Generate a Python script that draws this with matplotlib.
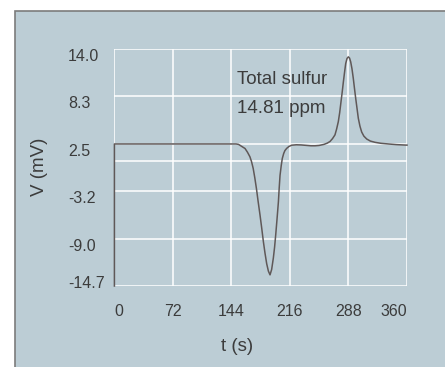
import matplotlib
matplotlib.use("Agg")
import matplotlib.pyplot as plt
from matplotlib.patches import Rectangle
from matplotlib.transforms import ScaledTranslation

# Signal (time in s, voltage in mV)
t = [0.5, 0.5, 150, 153, 157, 161, 164, 167, 169, 171, 173, 175, 177,
     179.4, 181.5, 183.5, 185.5, 187.6, 189.7, 191.7, 193.7, 195.8, 197.3,
     198.7, 200.3, 202, 203, 204, 205.5, 206.8, 208.5, 210, 212.2, 215,
     218.3, 224, 230, 236, 242, 247, 252, 258, 262, 265.4, 268.5, 271.5,
     273.5, 275.6, 277.3, 278.9, 280.4, 281.8, 283.3, 284.7, 286.3, 287.9,
     289.4, 290.8, 292.4, 294, 295.5, 297, 298.6, 300.2, 302.2, 304.3, 307,
     310.5, 315, 320.7, 328, 337, 347, 357.5, 360]
v = [-14.7, 2.5, 2.5, 2.45, 2.2, 1.95, 1.5, 0.95, 0.35, -0.45, -1.6, -2.9,
     -4.4, -6.1, -7.7, -9.3, -10.7, -12.0, -12.9, -13.35, -12.7, -11.3,
     -10.0, -8.5, -6.6, -4.5, -2.8, -1.3, -0.1, 0.75, 1.35, 1.7, 1.97, 2.2,
     2.35, 2.4, 2.38, 2.33, 2.28, 2.28, 2.32, 2.45, 2.6, 2.8, 3.15, 3.6,
     4.3, 5.2, 6.3, 7.6, 8.8, 10.0, 11.2, 12.25, 12.85, 13.05, 12.9, 12.45,
     11.6, 10.45, 9.2, 8.0, 6.8, 5.6, 4.65, 3.95, 3.45, 3.1, 2.85, 2.7,
     2.58, 2.5, 2.42, 2.37, 2.36]

xticks = [0, 72, 144, 216, 288, 360]
yticks = [-14.7, -8.96, -3.22, 2.52, 8.26, 14.0]
ytick_labels = ["-14.7", "-9.0", "-3.2", "2.5", "8.3", "14.0"]
extra_grid = 0.4

note_lines = ["Total sulfur", "14.81 ppm"]

bg = "#bccdd5"
txt = "#3c3c3c"
plt.rcParams["font.family"] = ["Liberation Sans", "DejaVu Sans"]

fig = plt.figure(figsize=(4.45, 3.67), dpi=100)
fig.patch.set_facecolor("white")

# grey framed panel, running off the right and bottom edges
frame = Rectangle((15 / 445, -0.05), 1.0, 1 - 11 / 367 + 0.05,
                  transform=fig.transFigure, facecolor=bg,
                  edgecolor="#7c7c7c", linewidth=1.2, zorder=-1)
fig.patches.append(frame)

ax = fig.add_axes([114 / 445, 81 / 367, 293 / 445, 237 / 367])
ax.set_zorder(1)
ax.set_facecolor(bg)
for s in ax.spines.values():
    s.set_visible(False)

ax.set_xlim(0, 360)
ax.set_ylim(-14.7, 14.0)
ax.set_xticks(xticks)
ax.set_xticklabels([str(x) for x in xticks])
ax.set_yticks(yticks)
ax.set_yticklabels(ytick_labels)
ax.grid(True, color="white", linewidth=1.1)
ax.axhline(extra_grid, color="white", linewidth=1.1, zorder=0.5)
ax.set_axisbelow(True)

ax.tick_params(axis="both", length=0, labelsize=11.5, labelcolor=txt)
ax.tick_params(axis="x", pad=13)
ax.tick_params(axis="y", pad=33)
for lab in ax.get_yticklabels():
    lab.set_horizontalalignment("left")
ylabs = ax.get_yticklabels()
for i, lab in enumerate(ylabs):
    dy = 4 if i == 0 else -6
    lab.set_transform(lab.get_transform() +
                      ScaledTranslation(0, dy / 100, fig.dpi_scale_trans))
xlabs = ax.get_xticklabels()
xlabs[0].set_horizontalalignment("left")
xlabs[-1].set_horizontalalignment("right")

ax.plot(t, v, color="#5f5858", linewidth=1.1, clip_on=False, zorder=3)

ax.text(151, 10.25, note_lines[0], fontsize=13.5, color=txt, va="center")
ax.text(151, 6.85, note_lines[1], fontsize=13.5, color=txt, va="center")

ax.set_xlabel("t (s)", fontsize=13.5, color=txt)
ax.set_ylabel("V (mV)", fontsize=13.5, color=txt)
ax.xaxis.set_label_coords(0.42, -0.257)
ax.xaxis.label.set_verticalalignment("center")
ax.yaxis.set_label_coords(-0.2526, 0.502)
ax.yaxis.label.set_verticalalignment("center")

fig.savefig("out.png", dpi=100)
